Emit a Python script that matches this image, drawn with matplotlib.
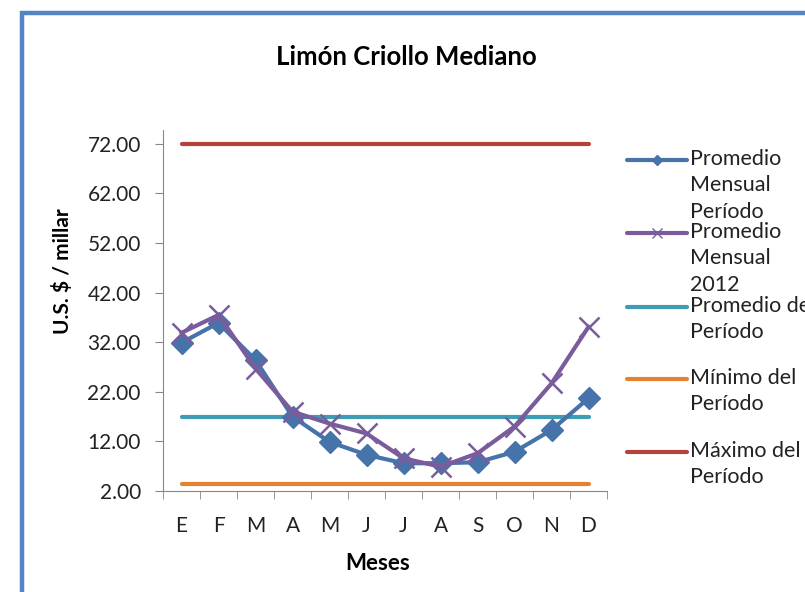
import matplotlib
matplotlib.use("Agg")
import matplotlib.pyplot as plt
from matplotlib.patches import Rectangle
from matplotlib.lines import Line2D
import numpy as np

plt.rcParams['font.family'] = ['Lato', 'DejaVu Sans']

meses = ['E', 'F', 'M', 'A', 'M', 'J', 'J', 'A', 'S', 'O', 'N', 'D']
prom_mensual_periodo = [31.9, 35.9, 28.4, 17.0, 11.9, 9.3, 7.6, 7.6, 7.8, 9.9, 14.3, 20.7]
prom_mensual_2012 = [33.9, 37.5, 26.7, 18.0, 15.6, 13.6, 8.6, 6.9, 9.6, 15.0, 23.7, 35.1]
prom_periodo = 16.9
min_periodo = 3.4
max_periodo = 72.0
yticks = [2, 12, 22, 32, 42, 52, 62, 72]

labels = ['Promedio\nMensual\nPeríodo', 'Promedio\nMensual\n2012',
          'Promedio del\nPeríodo', 'Mínimo del\nPeríodo', 'Máximo del\nPeríodo']
colors = ['#4674AA', '#7A5C9C', '#3C9DB4', '#E4822F', '#B5413D']

fig = plt.figure(figsize=(8.05, 5.92), dpi=100)
fig.patches.append(Rectangle((22 / 805, -0.2), 1.2, 1.2 - 13 / 592,
                             transform=fig.transFigure, fill=False,
                             edgecolor='#5485C3', linewidth=3.2))

ax = fig.add_axes([163 / 805, 101 / 592, 444 / 805, 361 / 592])
x = np.arange(len(meses))
lw = 3.0
ax.plot(x, prom_mensual_periodo, color=colors[0], lw=lw, marker='D', ms=11,
        zorder=3)
ax.plot(x, prom_mensual_2012, color=colors[1], lw=lw, marker='x', ms=14,
        mew=1.8, zorder=4)
ax.plot(x, [prom_periodo] * len(x), color=colors[2], lw=lw, solid_capstyle='round')
ax.plot(x, [min_periodo] * len(x), color=colors[3], lw=lw, solid_capstyle='round')
ax.plot(x, [max_periodo] * len(x), color=colors[4], lw=lw, solid_capstyle='round')

ax.set_xlim(-0.5, 11.5)
ax.set_ylim(2, 74.8)
ax.set_yticks(yticks)
ax.set_yticklabels(['%.2f' % v for v in yticks], fontsize=15, color='#222222')
ax.set_xticks(x)
ax.set_xticklabels(meses, fontsize=15, color='#222222')
ax.set_xticks(np.arange(-0.5, 12, 1), minor=True)
ax.tick_params(axis='x', which='major', length=0, pad=18)
ax.tick_params(axis='x', which='minor', length=6, color='#888888')
ax.tick_params(axis='y', length=6, color='#888888', pad=10)
for s in ['top', 'right']:
    ax.spines[s].set_visible(False)
for s in ['left', 'bottom']:
    ax.spines[s].set_color('#888888')

fig.text(406 / 805, 1 - 57 / 592, 'Limón Criollo Mediano', fontsize=18.5,
         fontweight='bold', ha='center', va='center')
fig.text(62 / 805, 1 - 271 / 592, 'U.S. $ / millar', fontsize=15,
         fontweight='bold', rotation=90, ha='center', va='center')
fig.text(378 / 805, 1 - 563 / 592, 'Meses', fontsize=16, fontweight='bold',
         ha='center', va='center')

# legend drawn by hand, Excel style (handle next to first text line)
leg_y = [160, 233, 307, 379, 452]
for i, (lab, c) in enumerate(zip(labels, colors)):
    yy = 1 - leg_y[i] / 592
    fig.add_artist(Line2D([627 / 805, 687 / 805], [yy, yy], color=c, lw=lw,
                          transform=fig.transFigure, solid_capstyle='round'))
    if i == 0:
        fig.add_artist(Line2D([657 / 805], [yy], color=c, marker='D', ms=5,
                              transform=fig.transFigure))
    if i == 1:
        fig.add_artist(Line2D([657 / 805], [yy], color=c, marker='x', ms=7,
                              mew=1, transform=fig.transFigure))
    fig.text(690 / 805, yy + 11 / 592, lab, fontsize=15.5, ha='left', va='top',
             linespacing=1.4, color='#222222')

fig.savefig('out.png', dpi=100)
